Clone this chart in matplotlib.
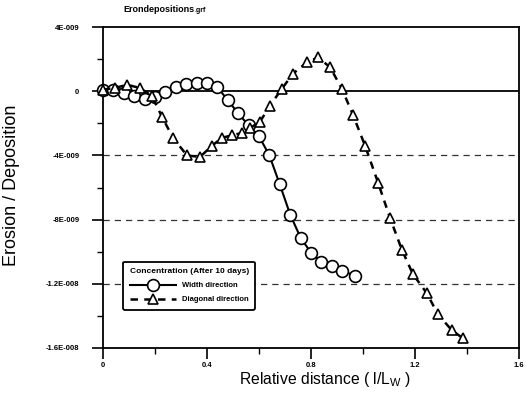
import matplotlib.pyplot as plt
from matplotlib.ticker import MultipleLocator, FixedLocator

# width direction (circles), erosion/deposition in units of 1E-9
x_width = [0.0, 0.04, 0.08, 0.12, 0.16, 0.20, 0.24, 0.28, 0.32, 0.36, 0.40, 0.44,
           0.48, 0.52, 0.56, 0.60, 0.64, 0.68, 0.72, 0.76, 0.80, 0.84, 0.88, 0.92, 0.97]
y_width = [0.06, 0.06, -0.13, -0.31, -0.5, -0.38, -0.06, 0.25, 0.44, 0.5, 0.5, 0.25,
           -0.56, -1.38, -2.13, -2.81, -4.0, -5.81, -7.69, -9.13, -10.06, -10.63,
           -10.88, -11.19, -11.5]

# diagonal direction (triangles)
x_diag = [0.0, 0.045, 0.093, 0.142, 0.188, 0.227, 0.269, 0.323, 0.373, 0.419, 0.458,
          0.496, 0.535, 0.565, 0.604, 0.642, 0.688, 0.731, 0.785, 0.827, 0.873, 0.919,
          0.962, 1.008, 1.058, 1.104, 1.15, 1.192, 1.246, 1.288, 1.342, 1.385]
y_diag = [0.1, 0.2, 0.4, 0.2, -0.3, -1.6, -2.9, -4.0, -4.1, -3.4, -2.9, -2.75, -2.6,
          -2.3, -1.9, -0.9, 0.15, 1.1, 1.8, 2.1, 1.5, 0.15, -1.5, -3.4, -5.7, -7.9,
          -9.9, -11.4, -12.6, -13.9, -14.9, -15.4]

y_ticks = [4, 0, -4, -8, -12, -16]
y_ticklabels = ['4E-009', '0', '-4E-009', '-8E-009', '-1.2E-008', '-1.6E-008']
x_ticks = [0, 0.4, 0.8, 1.2, 1.6]
x_ticklabels = ['0', '0.4', '0.8', '1.2', '1.6']

plt.rcParams['font.family'] = ['Liberation Sans', 'DejaVu Sans']
narrow = ['Liberation Sans Narrow', 'Liberation Sans']

fig = plt.figure(figsize=(5.26, 4.01), dpi=100)
ax = fig.add_axes([103/526, 1-348/401, 416/526, 321/401])

# grid lines
ax.axhline(0, color='black', lw=1.3, zorder=1)
for g in [-4, -8, -12]:
    ax.axhline(g, color='#333333', lw=0.9, linestyle=(0, (5, 4)), zorder=1)

ax.plot(x_width, y_width, color='black', lw=1.5, marker='o', markersize=8.5,
        markerfacecolor='white', markeredgecolor='black', markeredgewidth=1.2,
        label='Width direction', zorder=3, clip_on=False)
ax.plot(x_diag, y_diag, color='black', lw=1.8, linestyle=(0, (3, 2.5)), marker='^',
        markersize=7.5, markerfacecolor='white', markeredgecolor='black',
        markeredgewidth=1.2, label='Diagonal direction', zorder=4, clip_on=False)

ax.set_xlim(0, 1.6)
ax.set_ylim(-16, 4)

tick_font = dict(family=narrow, size=5.5, weight='bold')
ax.xaxis.set_major_locator(FixedLocator(x_ticks))
ax.xaxis.set_minor_locator(MultipleLocator(0.2))
ax.set_xticklabels(x_ticklabels, fontdict=tick_font)
ax.yaxis.set_major_locator(FixedLocator(y_ticks))
ax.yaxis.set_minor_locator(MultipleLocator(2))
ax.set_yticklabels(y_ticklabels, fontdict=tick_font)
ax.tick_params(axis='both', which='major', direction='out', length=8, width=1.2, color='black')
ax.tick_params(axis='both', which='minor', direction='out', length=4, width=1.0, color='black')
ax.tick_params(axis='x', which='major', pad=2)
ax.tick_params(axis='y', which='major', pad=9)

for s in ax.spines.values():
    s.set_linewidth(1.3)
    s.set_color('black')

ax.set_xlabel('Relative distance ( $\\mathregular{l/L_W}$ )', fontsize=11.3)
ax.xaxis.set_label_coords((325 - 103) / 416, -0.07)
ax.set_ylabel('Erosion / Deposition', fontsize=13)
ax.yaxis.set_label_coords(-(103 - 20) / 416, (348 - 185) / 321)

title = fig.text(123/526, 1-9/401, 'Erondepositions', fontsize=6.5, weight='bold',
                 family=narrow, va='center')
ax.annotate('.grf', xy=(1, 0.3), xycoords=title, fontsize=5, weight='bold',
            family=narrow, va='center', ha='left', annotation_clip=False)

leg = ax.legend(title='Concentration (After 10 days)', loc='upper left',
                bbox_to_anchor=(0.04, 0.28), frameon=True, fancybox=True,
                edgecolor='black', framealpha=1, fontsize=5.5, title_fontsize=6,
                handlelength=6, handletextpad=0.8, borderpad=0.8, labelspacing=0.9)
leg.get_frame().set_linewidth(1.3)
for t in leg.get_texts():
    t.set_fontweight('bold')
leg.get_title().set_fontweight('bold')

fig.savefig('out.png', dpi=100)
